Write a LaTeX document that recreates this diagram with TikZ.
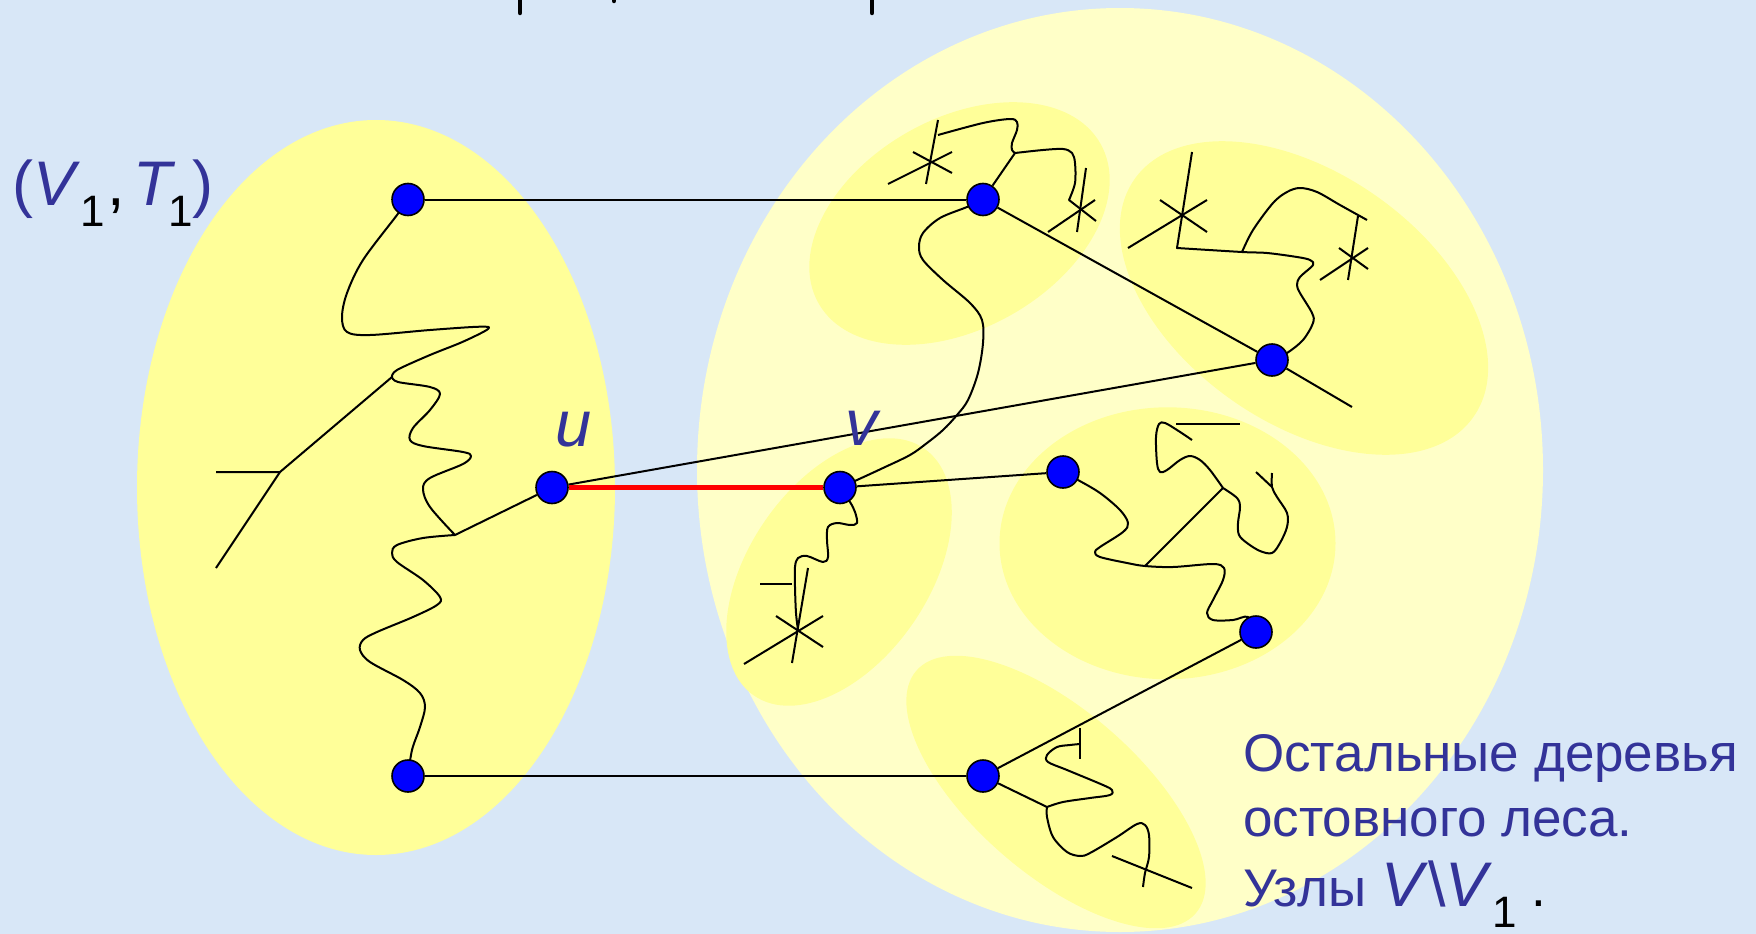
\documentclass[tikz,border=0pt]{standalone}
\usepackage{fontspec}
\setmainfont{Liberation Sans}
\pgfdeclarelayer{bg}
\pgfdeclarelayer{edges}
\pgfsetlayers{bg,edges,main}
\definecolor{bgblue}{HTML}{D8E7F7}
\definecolor{lyel}{HTML}{FFFF99}
\definecolor{pyel}{HTML}{FFFFC8}
\definecolor{lblue}{HTML}{333399}
\definecolor{dotblue}{HTML}{0000FF}
\newcommand{\subone}{\raisebox{-21pt}{\textcolor{black}{\fontsize{44}{44}\selectfont 1}}}
\tikzset{
  dot/.style={circle, draw=black, line width=1.6pt, fill=dotblue, minimum size=32pt, inner sep=0pt},
  tl/.style={line width=2pt, black, line join=round},
  redline/.style={line width=5pt, red},
  lbl/.style={text=lblue, inner sep=0pt},
  stub/.style={line width=4.5pt, black, line cap=round}
}
\begin{document}
\begin{tikzpicture}[x=1pt,y=-1pt]
\useasboundingbox (0,0) rectangle (1756,934);
\begin{pgfonlayer}{bg}
  \fill[bgblue] (0,0) rectangle (1756,934);
  % big ellipse of V\V1
  \fill[pyel] (1120,470) ellipse [x radius=423pt, y radius=462pt];
  % left ellipse (V1,T1)
  \fill[lyel] (376,487.5) ellipse [x radius=239pt, y radius=367.5pt];
  % small trees
  \fill[lyel, rotate around={29.5:(959.5,223.5)}] (959.5,223.5) ellipse [x radius=162pt, y radius=105pt];
  \fill[lyel, rotate around={-35:(1304,298)}] (1304,298) ellipse [x radius=207pt, y radius=125pt];
  \fill[lyel, rotate around={55.5:(839,572)}] (839,572) ellipse [x radius=150pt, y radius=90pt];
  \fill[lyel] (1167.5,543.3) ellipse [x radius=168pt, y radius=136pt];
  \fill[lyel, rotate around={-41:(1056,792)}] (1056,792) ellipse [x radius=185pt, y radius=82pt];
\end{pgfonlayer}

% vertices
\node[dot] (A) at (408,199.5) {};
\node[dot] (B) at (408,776) {};
\node[dot] (u) at (552,487.5) {};
\node[dot] (v) at (840,487.5) {};
\node[dot] (C) at (983,199.5) {};
\node[dot] (D) at (1272,360) {};
\node[dot] (E) at (1063,472) {};
\node[dot] (F) at (1256,632) {};
\node[dot] (G) at (983,776) {};

% junctions and free ends
\coordinate (J1) at (392,377);
\coordinate (K) at (280,472);
\coordinate (K1) at (216,472);
\coordinate (K2) at (216,568);
\coordinate (J2) at (455,535);
\coordinate (J3) at (1015,153);
\coordinate (J4) at (1242,252);
\coordinate (J5) at (1145,566);
\coordinate (J6) at (1223,488);
\coordinate (J7) at (1047,807);
\coordinate (Dend) at (1352,407);

\begin{pgfonlayer}{edges}
  % connecting edges
  \draw[tl] (A) -- (C);
  \draw[tl] (B) -- (G);
  \draw[tl] (u) -- (D);
  \draw[tl] (v) -- (E);
  \draw[tl] (C) -- (D);
  \draw[tl] (F) -- (G);
  \draw[redline] (u) -- (v);

  % tree T1
  \draw[tl] plot[smooth, tension=0.55] coordinates {(A) (397,215) (363,260) (347,293) (342,317) (347,332) (370,335) (430,330) (480,326.7) (488,329) (463,341.7) (430,355) (397,370) (J1)};
  \draw[tl] plot[smooth, tension=0.55] coordinates {(J1) (398,382) (430,387) (440,394) (430,410) (413,428) (410,440) (423,446) (463,452) (471,456) (463,464) (430,478) (423,489) (430,507) (J2)};
  \draw[tl] plot[smooth, tension=0.55] coordinates {(J2) (423,538) (397,545) (392,553) (397,562) (423,580) (440,597) (437,605) (413,617) (377,632) (363,640) (360,650) (370,662) (403,680) (420,693) (425,707) (420,727) (412,750) (B)};
  \draw[tl] (J2) -- (u);
  \draw[tl] (J1) -- (K) -- (K1);
  \draw[tl] (K) -- (K2);

  % tree around v
  \draw[tl] plot[smooth, tension=0.55] coordinates {(v) (857,480) (883,468) (910,455) (927,443) (943,430) (957,415) (968,400) (978,373) (983,343) (982,320) (970,303) (943,280) (923,260) (919,247) (923,233) (940,218) (967,207) (C)};
  \draw[tl] plot[smooth, tension=0.55] coordinates {(v) (850,502) (855,512) (857,523) (850,525) (837,523) (828,527) (827,540) (828,557) (823,562) (807,556) (798,558) (795,567) (795,587) (796,613) (798,630)};
  \draw[tl] (808,568) -- (792,663);
  \draw[tl] (776,616) -- (823,647);
  \draw[tl] (744,664) -- (823,616);
  \draw[tl] (760,584) -- (792,584);

  % tree around C
  \draw[tl] (C) -- (J3);
  \draw[tl] plot[smooth, tension=0.55] coordinates {(J3) (1012,150) (1012,143) (1017,130) (1017,122) (1010,119) (983,123) (938,135)};
  \draw[tl] (938,120) -- (926,184);
  \draw[tl] (888,184) -- (952,152);
  \draw[tl] (913,152) -- (952,173);
  \draw[tl] plot[smooth, tension=0.55] coordinates {(J3) (1043,150) (1063,149) (1072,153) (1075,163) (1075,183) (1069,200)} -- (1096,221);
  \draw[tl] (1086,168) -- (1077,232);
  \draw[tl] (1048,232) -- (1095,200);

  % tree around D
  \draw[tl] (D) -- (Dend);
  \draw[tl] plot[smooth, tension=0.55] coordinates {(D) (1287,353) (1303,340) (1313,323) (1312,313) (1300,293) (1297,285) (1300,277) (1313,265) (1310,260) (1297,257) (1267,253) (J4) (1177,248)} -- (1192,152);
  \draw[tl] (1128,248) -- (1207,200);
  \draw[tl] (1160,200) -- (1207,232);
  \draw[tl] plot[smooth, tension=0.55] coordinates {(J4) (1253,230) (1273,203) (1287,192) (1300,188) (1317,192) (1340,205) (1367,220)};
  \draw[tl] (1358,216) -- (1348,280);
  \draw[tl] (1320,280) -- (1368,248);
  \draw[tl] (1339,248) -- (1368,269);

  % tree around E and F
  \draw[tl] plot[smooth, tension=0.55] coordinates {(E) (1078,480) (1100,493) (1120,510) (1128,523) (1123,532) (1100,547) (1095,552) (1100,557) (1127,563) (J5) (1173,567) (1213,564) (1224,568) (1223,580) (1213,600) (1207,613) (1213,620) (1233,620) (1248,617) (F)};
  \draw[tl] (J5) -- (J6);
  \draw[tl] plot[smooth, tension=0.55] coordinates {(J6) (1210,470) (1200,460) (1190,456) (1180,460) (1167,470) (1160,472) (1157,463) (1156,437) (1159,424) (1165,423) (1177,430) (1192,440)};
  \draw[tl] (1176,424) -- (1240,424);
  \draw[tl] plot[smooth, tension=0.55] coordinates {(J6) (1237,498) (1240,507) (1238,523) (1239,535) (1247,543) (1260,551) (1272,553) (1280,543) (1287,527) (1287,513) (1277,497) (1272,487) (1272,473)};
  \draw[tl] (1256,472) -- (1272,487);

  % tree around G
  \draw[tl] (G) -- (J7);
  \draw[tl] plot[smooth, tension=0.55] coordinates {(J7) (1063,802) (1090,798) (1110,795) (1112,790) (1103,785) (1067,770) (1048,762) (1047,755) (1057,747) (1070,745) (1080,744)};
  \draw[tl] (1080,728) -- (1080,759);
  \draw[tl] plot[smooth, tension=0.55] coordinates {(J7) (1047,817) (1053,837) (1067,852) (1080,856) (1090,853) (1117,837) (1137,824) (1145,825) (1149,835) (1149,857) (1145,873) (1143,887)};
  \draw[tl] (1112,856) -- (1192,888);
\end{pgfonlayer}

% cut-off title fragments at the top edge
\draw[stub] (520,-4) -- (520,13);
\draw[stub] (614,-4) -- (614,1);
\draw[stub] (872,-4) -- (872,13);

% labels
\node[lbl, anchor=base west, font=\fontsize{63}{63}\selectfont] (lab1) at (12,205)
  {(\textit{V}\subone\hspace{3pt}\textcolor{black}{,}\hspace{8pt}\textit{T}\hspace{-7pt}\subone)};
\node[lbl, anchor=base, font=\fontsize{65}{65}\selectfont\itshape] (labu) at (574,446) {u};
\node[lbl, anchor=base, font=\fontsize{65}{65}\selectfont\itshape] (labv) at (862,445) {v};
\node[lbl, anchor=base west, font=\fontsize{53}{53}\selectfont] (t1) at (1243,771) {Остальные деревья};
\node[lbl, anchor=base west, font=\fontsize{53}{53}\selectfont] (t2) at (1243,836) {остовного леса.};
\node[lbl, anchor=base west, font=\fontsize{53}{53}\selectfont] (t3) at (1243,906)
  {Узлы {\fontsize{63}{63}\selectfont\textit{V}\textbackslash\textit{V}}\subone\hspace{14pt}\textcolor{black}{.}};
\end{tikzpicture}
\end{document}
